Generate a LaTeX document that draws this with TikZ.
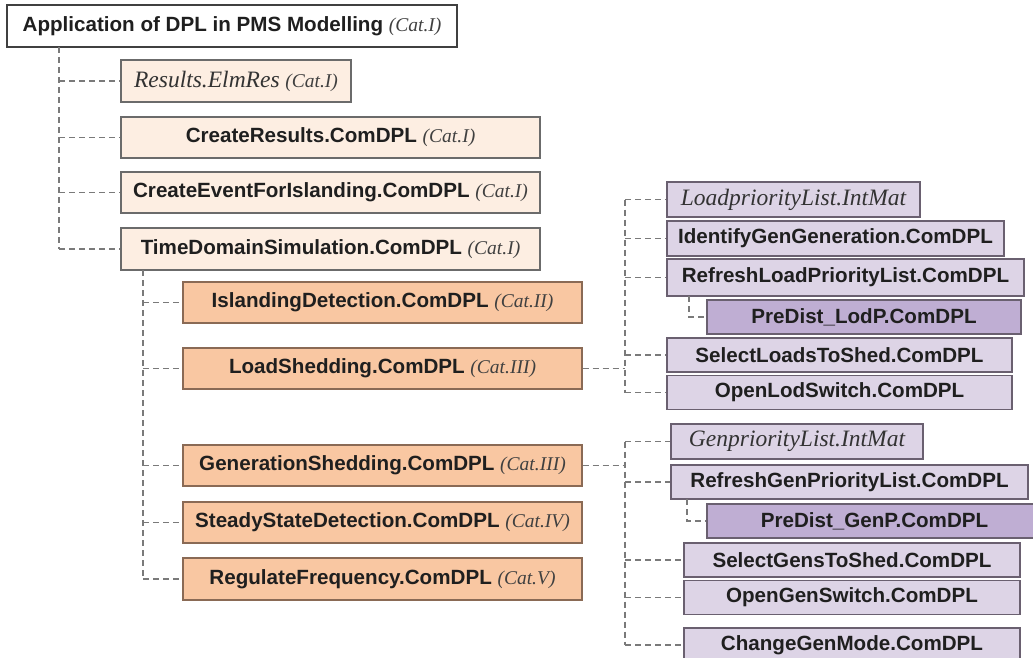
\documentclass[tikz,border=0pt]{standalone}
\usepackage{fontspec}
\setmainfont{Liberation Sans}
\newfontfamily\tms{Liberation Serif}
\definecolor{lvlA}{HTML}{FDEEE2}
\definecolor{lvlB}{HTML}{F9C7A2}
\definecolor{purA}{HTML}{DDD4E6}
\definecolor{purB}{HTML}{BFAED3}
\definecolor{brdA}{HTML}{6B6B6B}
\definecolor{brdB}{HTML}{8A6A55}
\definecolor{brdP}{HTML}{6A6070}
\definecolor{conncol}{HTML}{7A7A7A}
\newcommand\catlbl[1]{{\tms\mdseries\itshape\fontsize{19.5}{22}\selectfont\color{black!75}(#1)}}
\newcommand\itname[1]{{\tms\mdseries\itshape\fontsize{23.5}{26}\selectfont\color{black!80}#1}}
\begin{document}
\begin{tikzpicture}[x=1pt,y=-1pt,
  box/.style={draw, line width=1.4pt, inner sep=0pt, minimum height=41pt,
    font=\fontsize{20.6}{24}\selectfont\bfseries, text=black!88},
  rootbox/.style={box, fill=white, draw=black!75},
  boxA/.style={box, fill=lvlA, draw=brdA},
  boxB/.style={box, fill=lvlB, draw=brdB},
  boxP/.style={box, fill=purA, draw=brdP, minimum height=35pt},
  boxQ/.style={box, fill=purB, draw=brdP, minimum height=34pt},
  conn/.style={draw=conncol, line width=1.3pt, dash pattern=on 6pt off 4pt}]
\useasboundingbox (0,0) rectangle (1033,657);
\clip (0,0) rectangle (1033,657);
\fill[white] (0,0) rectangle (1033,657);
% root
\node[rootbox, minimum width=450pt, minimum height=42pt] (root) at (232,26) {Application of DPL in PMS Modelling \catlbl{Cat.I}};
% level 1
\node[boxA, minimum width=230pt, minimum height=42pt] (res) at (236,81) {\itname{Results.ElmRes} \catlbl{Cat.I}};
\node[boxA, minimum width=419pt] (cres) at (330.5,137.5) {CreateResults.ComDPL \catlbl{Cat.I}};
\node[boxA, minimum width=419pt] (cev) at (330.5,192.5) {CreateEventForIslanding.ComDPL \catlbl{Cat.I}};
\node[boxA, minimum width=419pt, minimum height=42pt] (tds) at (330.5,249) {TimeDomainSimulation.ComDPL \catlbl{Cat.I}};
% level 2
\node[boxB, minimum width=399pt] (isl) at (382.5,302.5) {IslandingDetection.ComDPL \catlbl{Cat.II}};
\node[boxB, minimum width=399pt] (ls) at (382.5,368.5) {LoadShedding.ComDPL \catlbl{Cat.III}};
\node[boxB, minimum width=399pt] (gs) at (382.5,465.5) {GenerationShedding.ComDPL \catlbl{Cat.III}};
\node[boxB, minimum width=399pt] (ssd) at (382.5,522.5) {SteadyStateDetection.ComDPL \catlbl{Cat.IV}};
\node[boxB, minimum width=399pt, minimum height=42pt] (rf) at (382.5,579) {RegulateFrequency.ComDPL \catlbl{Cat.V}};
% load group
\node[boxP, minimum width=253pt] (lpl) at (793.5,199.5) {\itname{LoadpriorityList.IntMat}};
\node[boxP, minimum width=337pt] (igg) at (835.5,238.5) {IdentifyGenGeneration.ComDPL};
\node[boxP, minimum width=357pt, minimum height=37pt] (rlp) at (845.5,277.5) {RefreshLoadPriorityList.ComDPL};
\node[boxQ, minimum width=314pt] (pdl) at (864,317) {PreDist\_LodP.ComDPL};
\node[boxP, minimum width=345pt, minimum height=34pt] (sls) at (839.5,355) {SelectLoadsToShed.ComDPL};
\node[boxP, minimum width=345pt, minimum height=34pt] (ols) at (839.5,392.5) {OpenLodSwitch.ComDPL};
% gen group
\node[boxP, minimum width=252pt] (gpl) at (797,441.5) {\itname{GenpriorityList.IntMat}};
\node[boxP, minimum width=357pt, minimum height=34pt] (rgp) at (849.5,482) {RefreshGenPriorityList.ComDPL};
\node[boxQ, minimum width=335pt] (pdg) at (874.5,521) {PreDist\_GenP.ComDPL};
\node[boxP, minimum width=336pt, minimum height=34pt] (sgs) at (852,560) {SelectGensToShed.ComDPL};
\node[boxP, minimum width=336pt, minimum height=34pt] (ogs) at (852,597.5) {OpenGenSwitch.ComDPL};
\node[boxP, minimum width=336pt, minimum height=34pt] (cgm) at (852,645) {ChangeGenMode.ComDPL};
% junction coordinates
\coordinate (j1) at (59,47);
\coordinate (j2) at (143,270);
\coordinate (jl) at (625,368.5);
\coordinate (jg) at (625,465.5);
\coordinate (jsl) at (689,296);
\coordinate (jsg) at (687,499);
% vertical trunks
\draw[conn] (j1) -- (j1 |- tds.west);
\draw[conn] (j2) -- (j2 |- rf.west);
\draw[conn] (jl |- lpl.west) -- (jl |- ols.west);
\draw[conn] (jg |- gpl.west) -- (jg |- cgm.west);
% branches
\foreach \c in {res,cres,cev,tds} \draw[conn] (j1 |- \c.west) -- (\c.west);
\foreach \c in {isl,ls,gs,ssd,rf} \draw[conn] (j2 |- \c.west) -- (\c.west);
\draw[conn] (ls.east) -- (jl);
\foreach \c in {lpl,igg,rlp,sls,ols} \draw[conn] (jl |- \c.west) -- (\c.west);
\draw[conn] (gs.east) -- (jg);
\foreach \c in {gpl,rgp,sgs,ogs,cgm} \draw[conn] (jg |- \c.west) -- (\c.west);
\draw[conn] (jsl) |- (pdl.west);
\draw[conn] (jsg) |- (pdg.west);
\end{tikzpicture}
\end{document}
